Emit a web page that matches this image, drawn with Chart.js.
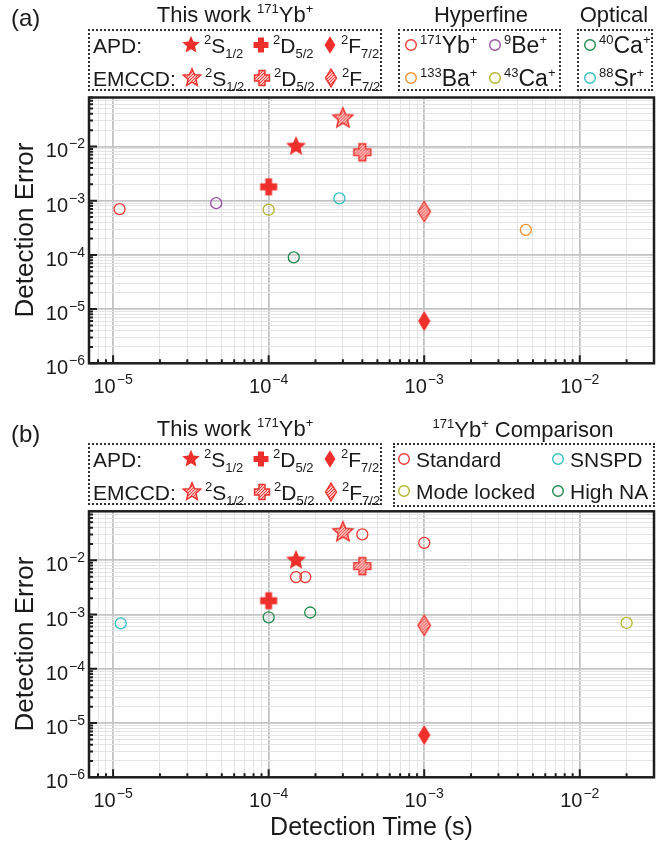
<!DOCTYPE html>
<html>
<head>
<meta charset="utf-8">
<script src="https://cdn.jsdelivr.net/npm/chart.js@4.4.1/dist/chart.umd.min.js"></script>
<style>
  body { margin: 0; background: #fff; }
  #page { position: relative; width: 669px; height: 841px; overflow: hidden;
          font-family: "Liberation Sans", Arial, Helvetica, sans-serif; color: #1a1a1a; }
  canvas.plot { position: absolute; left: 0; }
  .t { position: absolute; white-space: nowrap; line-height: 1; transform: translateY(-50%); font-size: 21px; }
  .t.c { transform: translate(-50%, -50%); }
  .t sup, .t sub { font-size: 13px; position: relative; vertical-align: baseline; }
  .t sup { top: -9px; }
  .t sub { top: 5px; }
  .box { position: absolute; border: 2px dotted #333; box-sizing: border-box; }
  .mk { position: absolute; transform: translate(-50%, -50%); }
  .tick { position: absolute; font-size: 20px; line-height: 1; white-space: nowrap; }
  .tick sup { font-size: 14px; position: relative; top: -9px; vertical-align: baseline; margin-left: 1px; }
  .ytitle { position: absolute; font-size: 26px; line-height: 1; white-space: nowrap;
            transform: translate(-50%, -50%) rotate(-90deg); }
</style>
</head>
<body>
<div id="page">
  <canvas id="chartA" class="plot" width="669" height="420" style="top:0"></canvas>
  <canvas id="chartB" class="plot" width="669" height="421" style="top:420px"></canvas>
</div>
<script>
// axis ranges and tick labels (powers of ten)
const xMin = 7e-6, xMax = 3e-2;
const yMin = 1e-6, yMax = 0.08;
const xTickExp = [-5, -4, -3, -2];
const yTickExp = [-6, -5, -4, -3, -2];

// this work, 171Yb+ : 2S1/2, 2D5/2, 2F7/2
const stateShapes = ['star', 'cross', 'diamond'];
const stateLabels = ['<sup>2</sup>S<sub>1/2</sub>', '<sup>2</sup>D<sub>5/2</sub>', '<sup>2</sup>F<sub>7/2</sub>'];
const apdTime = [1.5e-4, 1.0e-4, 1.0e-3];
const apdError = [1.0e-2, 1.8e-3, 6.0e-6];
const emccdTime = [3.0e-4, 4.0e-4, 1.0e-3];
const emccdError = [3.3e-2, 7.8e-3, 6.3e-4];

// (a) other ions: hyperfine (first four) and optical (last two)
const ionLabels = ['<sup>171</sup>Yb<sup>+</sup>', '<sup>9</sup>Be<sup>+</sup>', '<sup>133</sup>Ba<sup>+</sup>',
                   '<sup>43</sup>Ca<sup>+</sup>', '<sup>40</sup>Ca<sup>+</sup>', '<sup>88</sup>Sr<sup>+</sup>'];
const ionTime = [1.1e-5, 4.6e-5, 4.5e-3, 1.0e-4, 1.45e-4, 2.85e-4];
const ionError = [7.0e-4, 9.0e-4, 2.9e-4, 6.8e-4, 9.0e-5, 1.1e-3];
const ionColors = ['#ec3a34', '#9a4fa3', '#f3922f', '#b5b52e', '#1f8a4c', '#33bfc6'];

// (b) 171Yb+ comparison
const compLabels = ['Standard', 'SNSPD', 'Mode locked', 'High NA'];
const standardTime = [1.5e-4, 1.72e-4, 4.0e-4, 1.0e-3];
const standardError = [4.9e-3, 4.9e-3, 3.0e-2, 2.1e-2];
const snspdTime = [1.12e-5];
const snspdError = [6.9e-4];
const modeLockedTime = [2.0e-2];
const modeLockedError = [7.0e-4];
const highNATime = [1.0e-4, 1.85e-4];
const highNAError = [8.9e-4, 1.09e-3];
const compColors = ['#ec3a34', '#33bfc6', '#b5b52e', '#1f8a4c'];

const RED = '#ee2f2b';
const page = document.getElementById('page');

function tracePath(g, shape, s) {
  g.beginPath();
  if (shape === 'star') {
    for (let i = 0; i < 10; i++) {
      const r = (i % 2 ? 4.8 : 10.5) * s;
      const a = -Math.PI / 2 + i * Math.PI / 5;
      g.lineTo(r * Math.cos(a), r * Math.sin(a));
    }
  } else if (shape === 'cross') {
    const L = 8.5 * s, w = 3.4 * s;
    const pts = [[-w,-L],[w,-L],[w,-w],[L,-w],[L,w],[w,w],[w,L],[-w,L],[-w,w],[-L,w],[-L,-w],[-w,-w]];
    pts.forEach(p => g.lineTo(p[0], p[1]));
  } else {
    g.moveTo(0, -10 * s); g.lineTo(6.2 * s, 0); g.lineTo(0, 10 * s); g.lineTo(-6.2 * s, 0);
  }
  g.closePath();
}

function markerCanvas(shape, hatched, s) {
  const c = document.createElement('canvas');
  c.width = 28; c.height = 28;
  const g = c.getContext('2d');
  g.translate(14, 14);
  tracePath(g, shape, s);
  if (!hatched) {
    g.fillStyle = RED;
    g.fill();
    return c;
  }
  g.fillStyle = '#fff';
  g.fill();
  g.save();
  g.clip();
  g.strokeStyle = RED;
  g.lineWidth = 1.1;
  for (let k = -30; k < 30; k += 3) {
    g.beginPath(); g.moveTo(k - 14, 14); g.lineTo(k + 14, -14); g.stroke();
  }
  g.restore();
  tracePath(g, shape, s);
  g.strokeStyle = RED;
  g.lineWidth = 1.4;
  g.stroke();
  return c;
}

function circleCanvas(color) {
  const c = document.createElement('canvas');
  c.width = 16; c.height = 16;
  const g = c.getContext('2d');
  g.beginPath(); g.arc(8, 8, 5.3, 0, Math.PI * 2);
  g.strokeStyle = color; g.lineWidth = 1.4; g.stroke();
  return c;
}

function addText(html, x, y, size, center) {
  const d = document.createElement('div');
  d.className = 't' + (center ? ' c' : '');
  d.style.left = x + 'px';
  d.style.top = y + 'px';
  if (size) d.style.fontSize = size + 'px';
  d.innerHTML = html;
  page.appendChild(d);
}
function addBox(x, y, w, h) {
  const d = document.createElement('div');
  d.className = 'box';
  Object.assign(d.style, { left: x + 'px', top: y + 'px', width: w + 'px', height: h + 'px' });
  page.appendChild(d);
}
function addMarker(c, x, y) {
  c.className = 'mk';
  c.style.left = x + 'px';
  c.style.top = y + 'px';
  page.appendChild(c);
}

function thisWorkLegend(y0) {
  addText('This work <sup>171</sup>Yb<sup>+</sup>', 235, y0 - 14, 22, true);
  addBox(88, y0, 294, 62);
  const r1 = y0 + 16, r2 = y0 + 49;
  addText('APD:', 93, r1);
  addText('EMCCD:', 93, r2);
  const mx = [191, 261, 330], lx = [204, 273, 341];
  stateShapes.forEach((shape, i) => {
    addMarker(markerCanvas(shape, false, 0.88), mx[i], r1);
    addMarker(markerCanvas(shape, true, 0.88), mx[i] + 1, r2);
    addText(stateLabels[i], lx[i], r1);
    addText(stateLabels[i], lx[i] + 1, r2);
  });
}

const isDecade = v => v > 0 && Math.abs(Math.log10(v) - Math.round(Math.log10(v))) < 1e-6;
function logTicks(min, max) {
  const out = [];
  for (let e = Math.floor(Math.log10(min)); e <= Math.ceil(Math.log10(max)); e++) {
    for (let m = 1; m < 10; m++) {
      const v = m * Math.pow(10, e);
      if (v >= min * 0.999 && v <= max * 1.001) out.push(v);
    }
  }
  return out;
}
function logAxis(min, max) {
  return {
    type: 'logarithmic', min, max,
    afterBuildTicks: s => { s.ticks = logTicks(min, max).map(v => ({ value: v, major: isDecade(v) })); },
    afterFit: s => { if (s.isHorizontal()) s.height = 0; else s.width = 0; },
    ticks: { display: false, autoSkip: false },
    border: { display: false },
    grid: {
      drawTicks: false,
      color: c => c.tick && isDecade(c.tick.value) ? '#c3c3c3' : '#e4e4e4',
      lineWidth: c => c.tick && isDecade(c.tick.value) ? 1.8 : 1
    }
  };
}

// frame + inward ticks
const framePlugin = {
  id: 'frame',
  afterDraw(chart) {
    const { ctx, chartArea: a, scales: { x, y } } = chart;
    ctx.save();
    ctx.strokeStyle = '#1e1e1e';
    ctx.lineWidth = 2;
    ctx.beginPath();
    x.ticks.forEach(t => {
      const p = x.getPixelForValue(t.value);
      ctx.moveTo(p, a.bottom); ctx.lineTo(p, a.bottom - (isDecade(t.value) ? 8 : 4));
    });
    y.ticks.forEach(t => {
      const p = y.getPixelForValue(t.value);
      ctx.moveTo(a.left, p); ctx.lineTo(a.left + (isDecade(t.value) ? 8 : 4), p);
    });
    ctx.stroke();
    ctx.lineWidth = 2.5;
    ctx.strokeRect(a.left, a.top, a.right - a.left, a.bottom - a.top);
    ctx.restore();
  }
};

const pts = (xs, ys) => xs.map((x, i) => ({ x, y: ys[i] }));

function workDatasets() {
  return [
    { data: pts(apdTime, apdError), pointStyle: stateShapes.map(s => markerCanvas(s, false, 1)), pointRadius: 8 },
    { data: pts(emccdTime, emccdError), pointStyle: stateShapes.map(s => markerCanvas(s, true, 1)), pointRadius: 8 }
  ];
}
function circleSet(xs, ys, color) {
  return { data: pts(xs, ys), pointStyle: 'circle', pointRadius: 5.5, borderWidth: 1.3,
           borderColor: color, backgroundColor: 'rgba(0,0,0,0)' };
}

function makeChart(id, datasets, top, bottom) {
  return new Chart(document.getElementById(id), {
    type: 'scatter',
    data: { datasets },
    options: {
      responsive: false,
      animation: false,
      events: [],
      layout: { padding: { left: 89, right: 15, top, bottom } },
      plugins: { legend: { display: false }, tooltip: { enabled: false } },
      scales: { x: logAxis(xMin, xMax), y: logAxis(yMin, yMax) }
    },
    plugins: [framePlugin]
  });
}

function tickLabels(chart, offsetTop) {
  const a = chart.chartArea;
  xTickExp.forEach(e => {
    const d = document.createElement('div');
    d.className = 'tick';
    d.innerHTML = '10<sup>\u2212' + (-e) + '</sup>';
    d.style.left = chart.scales.x.getPixelForValue(Math.pow(10, e)) + 'px';
    d.style.top = (offsetTop + a.bottom + 13) + 'px';
    d.style.transform = 'translateX(-50%)';
    page.appendChild(d);
  });
  yTickExp.forEach(e => {
    const d = document.createElement('div');
    d.className = 'tick';
    d.innerHTML = '10<sup>\u2212' + (-e) + '</sup>';
    d.style.left = '85px';
    d.style.top = (offsetTop + chart.scales.y.getPixelForValue(Math.pow(10, e)) - 6) + 'px';
    d.style.transform = 'translateX(-100%)';
    page.appendChild(d);
  });
  const t = document.createElement('div');
  t.className = 'ytitle';
  t.textContent = 'Detection Error';
  t.style.left = '24px';
  t.style.top = (offsetTop + (a.top + a.bottom) / 2) + 'px';
  page.appendChild(t);
}

// panel (a)
const chartA = makeChart('chartA',
  workDatasets().concat(ionTime.map((t, i) => circleSet([t], [ionError[i]], ionColors[i]))),
  97.5, 56.7);
tickLabels(chartA, 0);

// panel (b)
const chartB = makeChart('chartB',
  workDatasets().concat([
    circleSet(standardTime, standardError, compColors[0]),
    circleSet(snspdTime, snspdError, compColors[1]),
    circleSet(modeLockedTime, modeLockedError, compColors[2]),
    circleSet(highNATime, highNAError, compColors[3])
  ]),
  91.3, 63.7);
tickLabels(chartB, 420);

addText('Detection Time (s)', (chartB.chartArea.left + chartB.chartArea.right) / 2, 826, 25, true);

// legends (a)
addText('(a)', 11, 18, 24);
thisWorkLegend(29);
addText('Hyperfine', 481, 15, 22, true);
addBox(398, 29, 163, 62);
addText('Optical', 614, 15, 22, true);
addBox(577, 29, 76, 62);
const ionSpots = [[411, 45], [495, 45], [411, 78], [495, 78], [590, 45], [590, 78]];
ionSpots.forEach((p, i) => {
  addMarker(circleCanvas(ionColors[i]), p[0], p[1]);
  addText(ionLabels[i], p[0] + 9, p[1], 23);
});

// legends (b)
addText('(b)', 11, 434, 24);
thisWorkLegend(443);
addText('<sup>171</sup>Yb<sup>+</sup> Comparison', 523, 430, 22, true);
addBox(393, 443, 262, 64);
const compSpots = [[404, 459], [558, 459], [404, 491], [558, 491]];
compSpots.forEach((p, i) => {
  addMarker(circleCanvas(compColors[i]), p[0], p[1]);
  addText(compLabels[i], p[0] + 12, p[1], 21);
});
</script>
</body>
</html>
